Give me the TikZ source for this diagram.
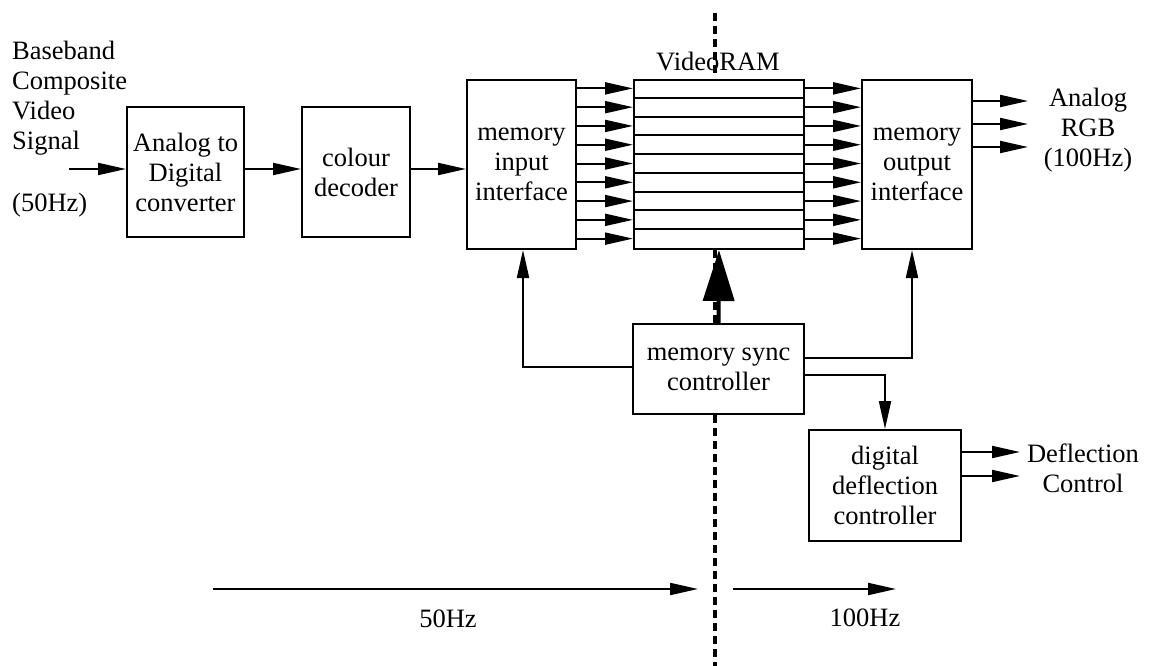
\documentclass[tikz,border=0pt]{standalone}
\usepackage{fontspec}
\setmainfont{Liberation Serif}
\usetikzlibrary{arrows.meta}
\tikzset{
  txt/.style={font=\fontsize{26.5}{30}\selectfont, inner sep=0pt, align=center},
  box/.style={draw, line width=2pt, txt},
  arr/.style={-{Triangle[length=28pt,width=12pt]}, line width=2pt},
  bigarr/.style={-{Triangle[length=51pt,width=31pt]}, line width=4pt},
  divider/.style={line width=3.2pt, dash pattern=on 8pt off 5pt},
}
\begin{document}
\begin{tikzpicture}[x=1pt,y=-1pt]
\useasboundingbox (0,0) rectangle (1154,666);
% boxes
\node[box, minimum width=117pt, minimum height=130pt] (adc) at (185.5,172) {Analog to\\Digital\\converter};
\node[box, minimum width=108pt, minimum height=130pt] (dec) at (356,172) {colour\\decoder};
\node[box, minimum width=109pt, minimum height=169pt] (min) at (521.5,164.5) {memory\\input\\interface};
\node[box, minimum width=170pt, minimum height=169pt] (ram) at (719,164.5) {};
\node[box, minimum width=110pt, minimum height=169pt] (mout) at (917,164.5) {memory\\output\\interface};
\node[box, minimum width=171pt, minimum height=90pt] (sync) at (718.5,369) {memory sync\\controller};
\node[box, minimum width=152pt, minimum height=111pt] (defl) at (885,485.5) {digital\\deflection\\controller};
% RAM rows
\foreach \k in {1,...,8}{
  \draw[line width=2pt] ([yshift=-\k*18.78pt]ram.north west) -- ([yshift=-\k*18.78pt]ram.north east);
}
% texts
\node[txt, align=left, anchor=west] (inlbl) at (12,98) {Baseband\\Composite\\Video\\Signal};
\node[txt, anchor=west] (inhz) at (12,205) {(50Hz)};
\node[txt] (ramlbl) at (718,62) {VideoRAM};
\node[txt] (rgb) at (1088,130) {Analog\\RGB\\(100Hz)};
\node[txt] (dctl) at (1083,468) {Deflection\\Control};
\node[txt] (f50) at (448,619) {50Hz};
\node[txt] (f100) at (865,618) {100Hz};
% coordinates
\coordinate (inA) at (69,169);
\coordinate (b50s) at (213,589);
\coordinate (b50e) at (698,589);
\coordinate (b100s) at (733,589);
\coordinate (b100e) at (896,589);
\coordinate (dtop1) at (715,13);
\coordinate (dtop2) at (715,77);
\coordinate (dbot) at (715,666);
% main chain
\draw[arr] (inA) -- (adc.west |- inA);
\draw[arr] (adc.east |- inA) -- (dec.west |- inA);
\draw[arr] (dec.east |- inA) -- (min.west |- inA);
% bus arrows
\foreach \k in {0,...,8}{
  \draw[arr] ([yshift=-9.39pt-\k*18.78pt]min.north east) -- ([yshift=-9.39pt-\k*18.78pt]ram.north west);
  \draw[arr] ([yshift=-9.39pt-\k*18.78pt]ram.north east) -- ([yshift=-9.39pt-\k*18.78pt]mout.north west);
}
% RGB outputs
\foreach \y in {101,124,147}{
  \draw[arr] (mout.east |- 0,\y) -- (1028,\y);
}
% deflection outputs
\foreach \y in {452,476}{
  \draw[arr] (defl.east |- 0,\y) -- (1020,\y);
}
% divider
\draw[divider] (dtop1) -- (dtop2);
\draw[divider] (ram.south -| dtop1) -- (sync.north -| dtop1);
\draw[divider] (sync.south -| dtop1) -- (dbot);
% sync connections
\draw[bigarr] (sync.north) -- (ram.south);
\draw[arr] ([yshift=2pt]sync.west) -| ([xshift=1.5pt]min.south);
\draw[arr] ([yshift=11pt]sync.east) -| ([xshift=-5pt]mout.south);
\draw[arr] ([yshift=-6pt]sync.east) -| (defl.north);
% frequency arrows
\draw[arr] (b50s) -- (b50e);
\draw[arr] (b100s) -- (b100e);
\end{tikzpicture}
\end{document}
